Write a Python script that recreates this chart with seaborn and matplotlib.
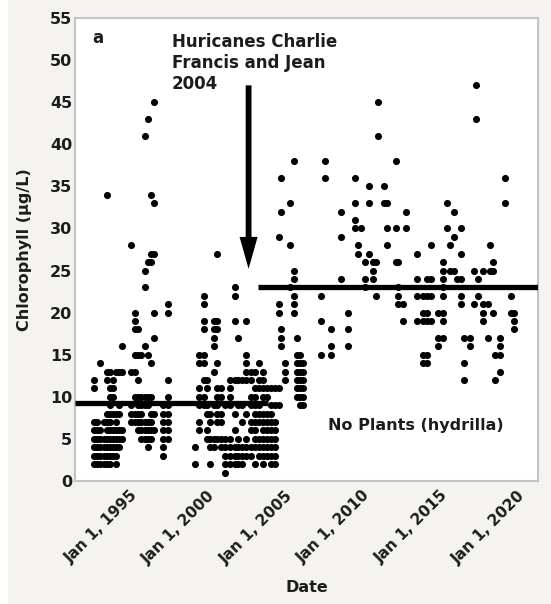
import numpy as np
import pandas as pd
import matplotlib
matplotlib.use("Agg")
import matplotlib.pyplot as plt
import matplotlib.dates as mdates
from matplotlib.ticker import MultipleLocator, FixedLocator
from matplotlib.patches import Rectangle
import seaborn as sns

# ---------------- data (decimal year of sampling, chlorophyll values) ----------------
sample_years = [
    1992.65, 1992.85, 1993.05, 1993.3, 1993.5, 1993.7, 1993.9, 1994.1, 1994.3, 1994.5,
    1995.05, 1995.3, 1995.5, 1995.7, 1995.95, 1996.15, 1996.35, 1996.55,
    1997.15, 1997.45,
    1999.2, 1999.45, 1999.75, 1999.95, 2000.2, 2000.45, 2000.65, 2000.85, 2001.15,
    2001.45, 2001.75, 2002.0, 2002.25, 2002.5, 2002.8, 2003.1, 2003.35, 2003.6,
    2003.85, 2004.1, 2004.35, 2004.6, 2004.75,
    2005.0, 2005.35, 2005.6, 2005.8, 2006.0, 2006.2,
    2007.35, 2007.6, 2008.0, 2008.6, 2009.05, 2009.5, 2009.7,
    2009.9, 2010.2, 2010.45, 2010.7, 2010.9, 2011.05, 2011.4, 2011.6, 2012.15,
    2012.3, 2012.6, 2012.8,
    2013.55, 2013.9, 2014.2, 2014.45, 2014.9, 2015.2, 2015.45, 2015.65, 2015.9,
    2016.15, 2016.4, 2016.6, 2016.95,
    2017.2, 2017.35, 2017.5, 2017.8, 2018.1, 2018.25, 2018.45, 2018.6, 2018.9,
    2019.25, 2019.6, 2019.8,
]
chl_values = [
    [12, 11, 7, 6, 5, 4, 3, 2], [7, 6, 5, 4, 3, 2], [14, 6, 5, 4, 3, 2], [7, 5, 4, 3, 2],
    [34, 13, 12, 8, 7, 6, 5, 4, 3, 2], [13, 11, 10, 9, 8, 7, 6, 5, 4, 3, 2],
    [12, 11, 10, 8, 6, 5, 4, 3], [13, 8, 7, 6, 5, 4, 3, 2], [13, 9, 8, 6, 5, 4], [16, 13, 6, 5],
    [28, 13, 9, 8, 7], [20, 19, 18, 15, 13, 10, 8, 7], [18, 15, 12, 10, 9, 8, 7, 6],
    [15, 10, 9, 8, 7, 6, 5], [41, 25, 23, 16, 10, 9, 7, 6, 5], [43, 26, 15, 10, 9, 7, 6, 5, 4],
    [34, 27, 26, 14, 10, 8, 7, 6, 5], [45, 33, 27, 20, 17, 8, 6],
    [9, 8, 7, 6, 5, 4, 3], [21, 20, 12, 10, 9, 8, 7, 6, 5],
    [4, 2], [15, 14, 11, 10, 9, 7, 6], [22, 21, 19, 18, 15, 14, 12, 10, 9], [12, 11, 9, 8, 6, 5],
    [8, 7, 5, 4, 2], [19, 18, 17, 16, 13, 9, 5, 4], [27, 19, 18, 14, 11, 10, 9, 8, 7, 5],
    [11, 10, 8, 7, 5, 4], [9, 5, 4, 3, 2, 1],
    [12, 11, 10, 9, 5, 4, 3, 2], [23, 22, 19, 12, 8, 6, 4, 3, 2], [17, 12, 9, 5, 4, 3, 2],
    [12, 9, 7, 4, 3, 2], [19, 15, 14, 13, 12, 8, 5, 4, 3], [13, 12, 10, 9, 7, 6, 4, 3],
    [13, 11, 10, 9, 8, 7, 6, 5, 4, 2], [14, 12, 11, 9, 8, 7, 5, 4, 3],
    [13, 12, 11, 10, 8, 7, 6, 5, 4, 3, 2],
    [11, 10, 8, 7, 6, 5, 4, 3], [11, 9, 8, 7, 6, 5, 4, 3, 2], [11, 9, 7, 6, 5, 4, 3, 2],
    [29, 21, 20, 11, 9], [36, 32, 18, 17, 16],
    [14, 13, 12], [33, 28, 23], [38, 25, 24, 22, 21, 20], [17, 15, 14, 13, 12, 11, 10],
    [15, 14, 13, 12, 11, 10, 9], [14, 13, 12, 11, 10, 9],
    [22, 19, 15], [38, 36], [18, 16, 15], [32, 29, 24], [20, 18, 16], [36, 33, 31, 30], [28, 27],
    [30], [26, 24, 23], [35, 33, 27], [26, 25, 24], [26, 22], [45, 41], [35, 33], [33, 30, 28],
    [38, 30, 26], [26, 23, 22, 21], [21, 19], [32, 30],
    [27, 24, 22, 19], [22, 20, 19, 15, 14], [24, 22, 20, 19, 15, 14], [28, 24, 22, 19],
    [20, 17, 16], [26, 25, 24, 23, 22, 20, 19, 17], [33, 30], [28, 25], [32, 29, 25],
    [24], [30, 27, 24, 22, 21], [17, 14, 12], [17, 16],
    [25, 21], [47, 43], [24, 22], [25, 21, 20, 19], [21, 17], [28, 25], [26, 25, 20],
    [15, 12], [17, 16, 15, 13],
    [36, 33], [22, 20], [20, 19, 18],
]

# period means (horizontal lines)
mean_pre, mean_post = 9.3, 23.1
pre_span = [1991.45, 2003.9]
post_span = [2003.3, 2021.35]
x_limits = [1991.45, 2021.35]

# hurricane arrow (decimal year, tail value, tip value)
arrow_year, arrow_tail, arrow_tip = 2002.66, 47.0, 25.2

y_major = list(range(0, 56, 5))
x_major_years = [1995, 2000, 2005, 2010, 2015, 2020]
x_minor_years = [1992.5, 1997.5, 2002.5, 2007.5, 2012.5, 2017.5]


def dec2dt(y):
    yr = int(np.floor(y))
    start = pd.Timestamp(year=yr, month=1, day=1)
    end = pd.Timestamp(year=yr + 1, month=1, day=1)
    return start + (end - start) * (y - yr)


rows = []
for yr, vals in zip(sample_years, chl_values):
    for v in vals:
        rows.append((dec2dt(yr), v))
df = pd.DataFrame(rows, columns=["Date", "Chlorophyll"])

# ---------------- figure ----------------
sns.set_theme(style="white")
plt.rcParams["font.family"] = ["DejaVu Sans"]
plt.rcParams["font.weight"] = "bold"

BG = "#f4f3ef"
TXT = "#1c1c1c"
fig = plt.figure(figsize=(5.51, 6.04), dpi=100, facecolor=BG)
fig.patches.append(Rectangle((0, 0), 8 / 551, 1, transform=fig.transFigure,
                             facecolor="white", edgecolor="none", zorder=-1))
ax = fig.add_axes([75 / 551, 1 - 481 / 604, 463 / 551, 463 / 604])
ax.set_facecolor("white")

sns.scatterplot(data=df, x="Date", y="Chlorophyll", color="black", s=26,
                linewidth=0, ax=ax, zorder=3, legend=False)

ax.plot([dec2dt(v) for v in pre_span], [mean_pre, mean_pre], color="black", lw=3.8,
        solid_capstyle="butt", zorder=4)
ax.plot([dec2dt(v) for v in post_span], [mean_post, mean_post], color="black", lw=3.8,
        solid_capstyle="butt", zorder=4)

ax.annotate("", xy=(mdates.date2num(dec2dt(arrow_year)), arrow_tip),
            xytext=(mdates.date2num(dec2dt(arrow_year)), arrow_tail),
            arrowprops=dict(arrowstyle="simple,head_length=23,head_width=13,tail_width=4.2",
                            mutation_scale=1, fc="black", ec="none",
                            shrinkA=0, shrinkB=0), zorder=5)

ax.set_xlim(dec2dt(x_limits[0]), dec2dt(x_limits[1]))
ax.set_ylim(0, 55)

ax.xaxis.set_major_locator(FixedLocator(mdates.date2num([dec2dt(y) for y in x_major_years])))
ax.xaxis.set_minor_locator(FixedLocator(mdates.date2num([dec2dt(y) for y in x_minor_years])))
ax.xaxis.set_major_formatter(mdates.DateFormatter("Jan 1, %Y"))
ax.set_yticks(y_major)
ax.yaxis.set_minor_locator(MultipleLocator(2.5))

ax.tick_params(axis="both", which="both", direction="in", color="#b5b5b5", width=1)
ax.tick_params(axis="both", which="major", length=7)
ax.tick_params(axis="both", which="minor", length=4)
ax.tick_params(axis="y", which="major", labelsize=11.5, pad=2, labelcolor=TXT)
ax.tick_params(axis="x", which="major", labelsize=11, pad=5, labelcolor=TXT)
for lab in ax.get_xticklabels():
    lab.set_rotation(45)
    lab.set_ha("right")
    lab.set_va("top")
    lab.set_rotation_mode("anchor")
    lab.set_fontweight("bold")
for lab in ax.get_yticklabels():
    lab.set_fontweight("bold")

for sp in ax.spines.values():
    sp.set_visible(True)
    sp.set_color("#c4c4c4")
    sp.set_linewidth(1.5)

ax.set_xlabel("Date", fontsize=11.5, fontweight="bold", color=TXT)
ax.set_ylabel("Chlorophyll (μg/L)", fontsize=11.5, fontweight="bold", color=TXT)
ax.yaxis.set_label_coords(-0.092, 0.5)
ax.xaxis.set_label_coords(0.5, -0.213)

ax.text(mdates.date2num(dec2dt(1992.93)), 52.6, "a", fontsize=12, fontweight="bold",
        ha="center", va="center", color=TXT)
ax.text(mdates.date2num(dec2dt(1997.7)), 53.2, "Huricanes Charlie\nFrancis and Jean\n2004",
        fontsize=12, fontweight="bold", ha="left", va="top", linespacing=1.2, color=TXT)
ax.text(mdates.date2num(dec2dt(2013.45)), 6.6, "No Plants (hydrilla)", fontsize=11.5,
        fontweight="bold", ha="center", va="center", color=TXT)

fig.savefig("out.png", dpi=100, facecolor=BG)
